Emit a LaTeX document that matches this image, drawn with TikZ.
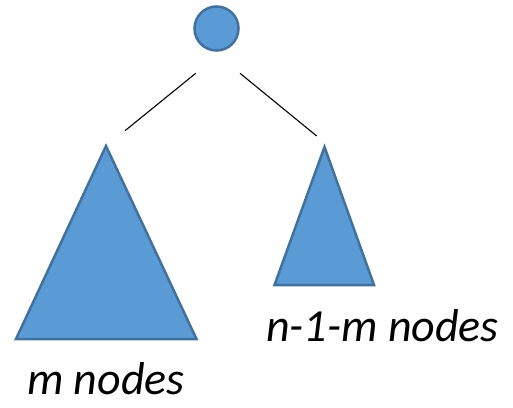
\documentclass[tikz,border=0pt]{standalone}
\usepackage{fontspec}
\setmainfont{Carlito}
\definecolor{fillblue}{HTML}{5B9BD5}
\definecolor{edgeblue}{HTML}{41719C}
\tikzset{
  shapebox/.style={fill=fillblue, draw=edgeblue, line width=2.5pt, line join=miter},
  edge/.style={draw=black, line width=1.1pt},
  lbl/.style={font=\itshape\fontsize{46}{52}\selectfont, inner sep=0pt, text depth=0pt, anchor=base west}
}
\begin{document}
\begin{tikzpicture}[x=1pt,y=-1pt]
\useasboundingbox (0,0) rectangle (513,407);
\node[shapebox, circle, minimum size=44pt, inner sep=0pt] (root) at (216.5,28.5) {};
\coordinate (la) at (106,146);
\coordinate (lb) at (16,339);
\coordinate (lc) at (196.5,339);
\coordinate (ra) at (324.5,147);
\coordinate (rb) at (274.5,285);
\coordinate (rc) at (374,285);
\filldraw[shapebox] (la) -- (lb) -- (lc) -- cycle;
\filldraw[shapebox] (ra) -- (rb) -- (rc) -- cycle;
\coordinate (e1s) at (195.7,73.3);
\coordinate (e1t) at (125,130.7);
\coordinate (e2s) at (240,73.3);
\coordinate (e2t) at (316.7,136);
\draw[edge] (e1s) -- (e1t);
\draw[edge] (e2s) -- (e2t);
\node[lbl] (rlabel) at (266,341.5) {n-1-m nodes};
\node[lbl] (llabel) at (27,394.5) {m nodes};
\end{tikzpicture}
\end{document}
